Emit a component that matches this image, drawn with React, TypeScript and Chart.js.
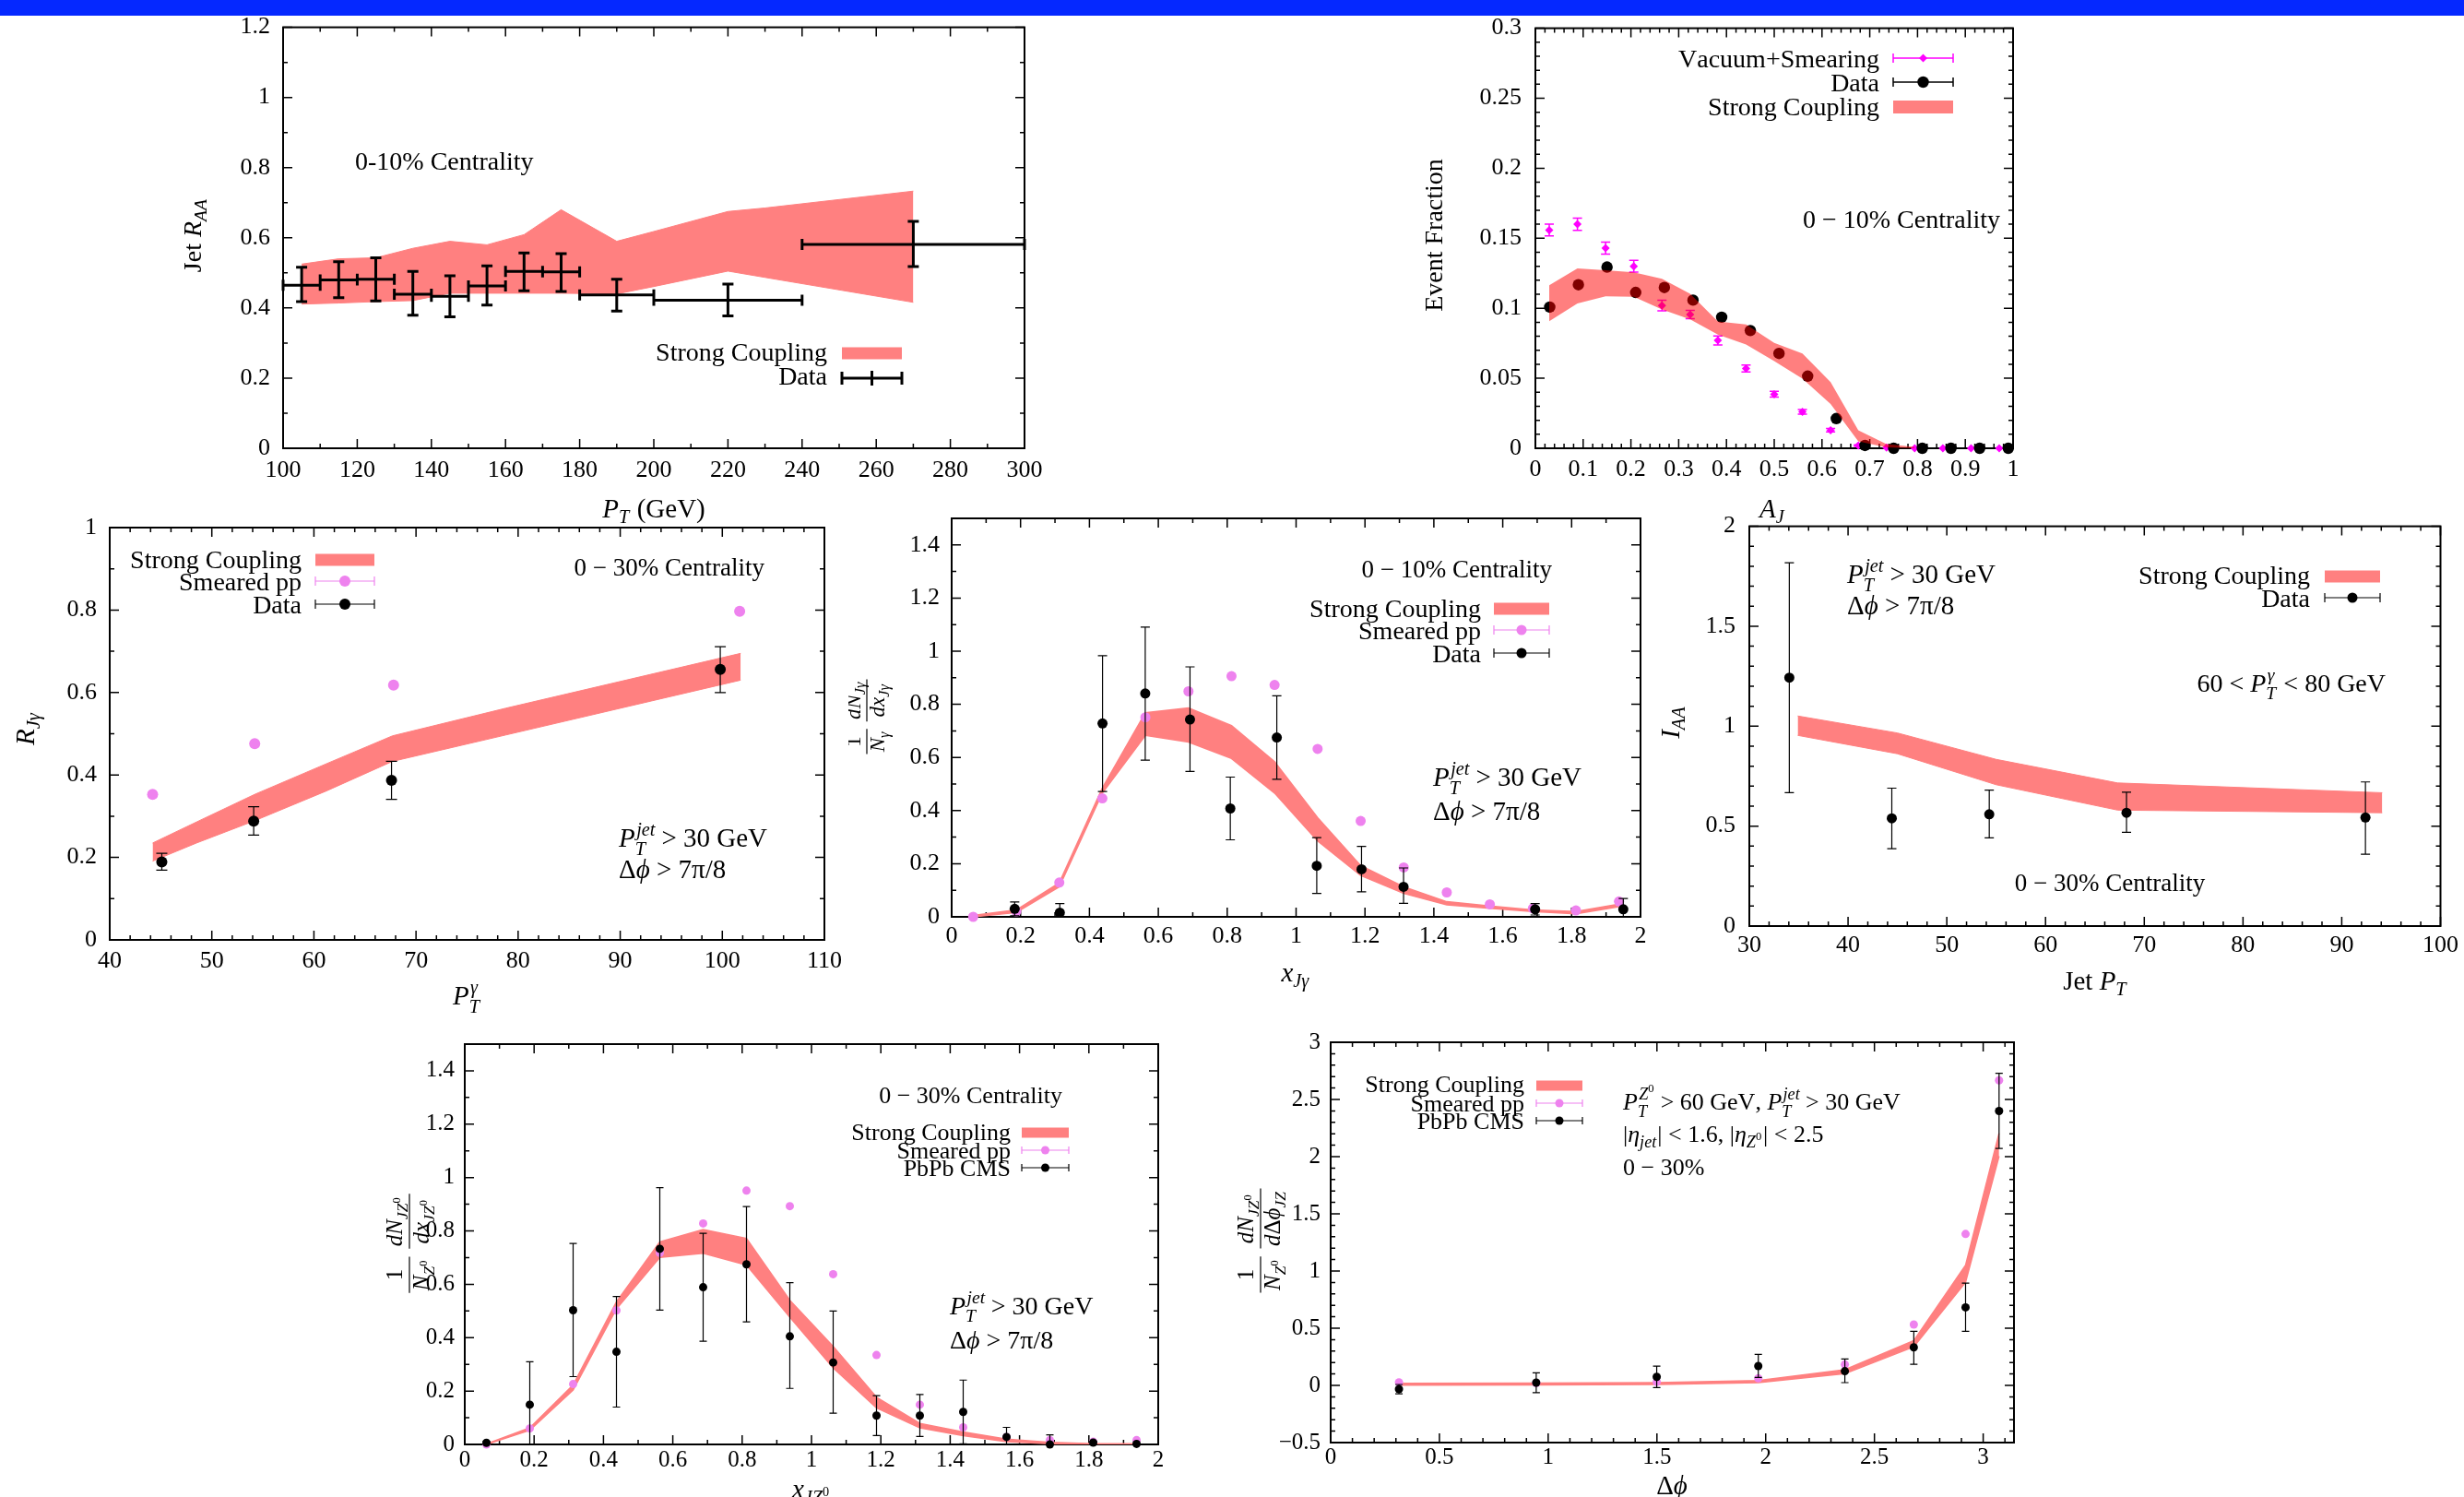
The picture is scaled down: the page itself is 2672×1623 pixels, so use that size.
import React, { useEffect, useRef } from 'react';
import { Chart, registerables } from 'chart.js';

Chart.register(...registerables);

const FONT = '"Liberation Serif", "DejaVu Serif", serif';
const BAND = '#ff8080';
const BAND_ALPHA = 'rgba(255,0,0,0.5)';
const VIOLET = '#ee82ee';
const MAGENTA = '#ff00ff';
const BLACK = '#000000';

// ---------------- Panel 1: Jet R_AA ----------------
const raaBandX = [105, 115, 125, 135, 145, 155, 165, 175, 190, 200, 220, 230, 270];
const raaBandHi = [0.525, 0.540, 0.543, 0.570, 0.590, 0.580, 0.609, 0.680, 0.590, 0.618, 0.675, 0.685, 0.733];
const raaBandLo = [0.411, 0.414, 0.418, 0.421, 0.442, 0.442, 0.442, 0.442, 0.440, 0.461, 0.505, 0.487, 0.416];
const raaX = [105, 115, 125, 135, 145, 155, 165, 175, 190, 220, 270];
const raaXLo = [100, 110, 120, 130, 140, 150, 160, 170, 180, 200, 240];
const raaXHi = [110, 120, 130, 140, 150, 160, 170, 180, 200, 240, 300];
const raaY = [0.465, 0.480, 0.482, 0.439, 0.433, 0.463, 0.504, 0.503, 0.437, 0.422, 0.581];
const raaYLo = [0.418, 0.429, 0.420, 0.379, 0.375, 0.408, 0.449, 0.447, 0.391, 0.377, 0.518];
const raaYHi = [0.516, 0.532, 0.543, 0.504, 0.492, 0.520, 0.557, 0.555, 0.482, 0.468, 0.647];

// ---------------- Panel 2: A_J ----------------
const ajVacX = [0.029, 0.088, 0.147, 0.206, 0.265, 0.324, 0.382, 0.441, 0.500, 0.559, 0.618, 0.676, 0.735, 0.794, 0.853, 0.912, 0.971];
const ajVacY = [0.1558, 0.1600, 0.1430, 0.1300, 0.1020, 0.0955, 0.0770, 0.0570, 0.0386, 0.0260, 0.0129, 0.0020, 0.0005, 0, 0, 0, 0];
const ajVacErr = [0.0042, 0.0043, 0.0043, 0.0042, 0.0038, 0.0030, 0.0032, 0.0025, 0.0021, 0.0017, 0.0012, 0.0005, 0, 0, 0, 0, 0];
const ajDataX = [0.03, 0.09, 0.15, 0.21, 0.27, 0.33, 0.39, 0.45, 0.51, 0.57, 0.63, 0.69, 0.75, 0.81, 0.87, 0.93, 0.99];
const ajDataY = [0.1008, 0.1168, 0.1294, 0.1113, 0.1148, 0.1058, 0.0936, 0.0841, 0.0677, 0.0515, 0.0212, 0.0020, 0, 0, 0, 0, 0];
const ajBandX = [0.029, 0.088, 0.147, 0.206, 0.265, 0.324, 0.382, 0.441, 0.500, 0.559, 0.618, 0.676, 0.735, 0.794];
const ajBandHi = [0.1165, 0.1284, 0.1272, 0.1256, 0.1210, 0.1103, 0.0905, 0.0884, 0.0753, 0.0677, 0.0472, 0.0129, 0.0030, 0.0010];
const ajBandLo = [0.0908, 0.1034, 0.1086, 0.1082, 0.0991, 0.0920, 0.0812, 0.0741, 0.0622, 0.0498, 0.0317, 0.0050, 0.0007, 0.0000];

// ---------------- Panel 3: R_Jgamma ----------------
const rjgBandX = [44.2, 48.5, 54.2, 61.2, 67.7, 78.8, 101.8];
const rjgBandHi = [0.235, 0.286, 0.353, 0.427, 0.495, 0.562, 0.695];
const rjgBandLo = [0.191, 0.235, 0.289, 0.361, 0.433, 0.497, 0.630];
const rjgPpX = [44.2, 54.2, 67.8, 101.7];
const rjgPpY = [0.353, 0.476, 0.618, 0.797];
const rjgDataX = [45.1, 54.1, 67.6, 99.8];
const rjgDataY = [0.189, 0.288, 0.387, 0.656];
const rjgDataLo = [0.169, 0.254, 0.341, 0.600];
const rjgDataHi = [0.210, 0.323, 0.433, 0.711];

// ---------------- Panel 4: x_Jgamma ----------------
const xjgX = [0.0625, 0.1875, 0.3125, 0.4375, 0.5625, 0.6875, 0.8125, 0.9375, 1.0625, 1.1875, 1.3125, 1.4375, 1.5625, 1.6875, 1.8125, 1.9375];
const xjgBandHi = [0.005, 0.026, 0.128, 0.485, 0.768, 0.786, 0.720, 0.584, 0.373, 0.193, 0.113, 0.057, 0.041, 0.026, 0.020, 0.048];
const xjgBandLo = [0.000, 0.016, 0.113, 0.466, 0.683, 0.658, 0.596, 0.466, 0.286, 0.156, 0.088, 0.045, 0.032, 0.020, 0.011, 0.038];
const xjgPpY = [0.000, 0.020, 0.129, 0.446, 0.751, 0.849, 0.906, 0.873, 0.632, 0.361, 0.186, 0.092, 0.047, 0.032, 0.024, 0.058];
const xjgDataX = [0.183, 0.314, 0.438, 0.562, 0.692, 0.809, 0.944, 1.060, 1.190, 1.312, 1.694, 1.950];
const xjgDataY = [0.030, 0.016, 0.728, 0.841, 0.743, 0.408, 0.675, 0.192, 0.179, 0.113, 0.0285, 0.0285];
const xjgDataLo = [0.004, 0.000, 0.472, 0.590, 0.547, 0.290, 0.518, 0.088, 0.094, 0.051, 0.007, 0.001];
const xjgDataHi = [0.056, 0.050, 0.983, 1.091, 0.941, 0.526, 0.832, 0.298, 0.265, 0.184, 0.050, 0.069];

// ---------------- Panel 5: I_AA ----------------
const iaaBandX = [34.9, 45.0, 55.0, 67.3, 94.1];
const iaaBandHi = [1.051, 0.966, 0.834, 0.716, 0.667];
const iaaBandLo = [0.954, 0.862, 0.707, 0.580, 0.567];
const iaaX = [34.05, 44.43, 54.3, 68.2, 92.4];
const iaaY = [1.243, 0.539, 0.559, 0.567, 0.543];
const iaaLo = [0.667, 0.387, 0.441, 0.469, 0.359];
const iaaHi = [1.818, 0.690, 0.680, 0.670, 0.721];

// ---------------- Panel 6: x_JZ0 ----------------
const xjzX = [0.0625, 0.1875, 0.3125, 0.4375, 0.5625, 0.6875, 0.8125, 0.9375, 1.0625, 1.1875, 1.3125, 1.4375, 1.5625, 1.6875, 1.8125, 1.9375];
const xjzBandHi = [0.002, 0.062, 0.223, 0.534, 0.759, 0.805, 0.772, 0.540, 0.367, 0.177, 0.079, 0.047, 0.020, 0.008, 0.003, 0.003];
const xjzBandLo = [0.000, 0.053, 0.204, 0.508, 0.701, 0.716, 0.672, 0.477, 0.287, 0.137, 0.062, 0.033, 0.010, 0.003, 0.001, 0.001];
const xjzPpY = [0.000, 0.060, 0.226, 0.502, 0.718, 0.828, 0.951, 0.893, 0.638, 0.335, 0.149, 0.064, 0.028, 0.016, 0.010, 0.016];
const xjzDataY = [0.006, 0.149, 0.503, 0.347, 0.733, 0.589, 0.675, 0.405, 0.307, 0.108, 0.108, 0.122, 0.028, 0.000, 0.007, 0.002];
const xjzDataLo = [0.000, 0.000, 0.254, 0.140, 0.503, 0.387, 0.459, 0.210, 0.117, 0.033, 0.030, 0.002, 0.000, 0.000, 0.000, 0.000];
const xjzDataHi = [0.012, 0.310, 0.753, 0.554, 0.962, 0.791, 0.891, 0.606, 0.500, 0.183, 0.187, 0.241, 0.064, 0.036, 0.012, 0.006];

// ---------------- Panel 7: delta phi ----------------
const dphiX = [0.314, 0.945, 1.499, 1.966, 2.364, 2.681, 2.919, 3.073];
const dphiBandHi = [0.019, 0.020, 0.025, 0.043, 0.137, 0.392, 1.050, 2.205];
const dphiBandLo = [0.003, 0.005, 0.008, 0.024, 0.102, 0.338, 0.902, 2.004];
const dphiPpY = [0.027, 0.020, 0.030, 0.062, 0.183, 0.532, 1.324, 2.667];
const dphiDataY = [-0.032, 0.024, 0.075, 0.169, 0.124, 0.333, 0.682, 2.399];
const dphiDataLo = [-0.073, -0.064, -0.019, 0.070, 0.024, 0.185, 0.473, 2.071];
const dphiDataHi = [0.008, 0.110, 0.169, 0.271, 0.231, 0.473, 0.894, 2.729];

// ---------------- rich text ----------------
type RNode = { c?: string; it?: boolean; sub?: RNode[]; sup?: RNode[] };
const isLetter = (c: string) => /[A-Za-z\u03b1-\u03c9\u03d5]/.test(c);

function parseRich(s: string): RNode[] {
  let i = 0;
  let math = false;
  function group(): RNode[] {
    const out: RNode[] = [];
    while (i < s.length) {
      const ch = s[i];
      if (ch === '}') { i++; return out; }
      if (ch === '$') { math = !math; i++; continue; }
      if (ch === '_' || ch === '^') {
        i++;
        let content: RNode[];
        if (s[i] === '{') { i++; content = group(); }
        else { const c = s[i++]; content = [{ c, it: math && isLetter(c) }]; }
        const last = out[out.length - 1];
        let node: RNode;
        if (last && (last.sub || last.sup) && !(ch === '_' ? last.sub : last.sup)) node = last;
        else { node = {}; out.push(node); }
        if (ch === '_') node.sub = content; else node.sup = content;
        continue;
      }
      out.push({ c: ch, it: math && isLetter(ch) });
      i++;
    }
    return out;
  }
  return group();
}

function richRun(ctx: CanvasRenderingContext2D, nodes: RNode[], x: number, y: number, size: number, draw: boolean): number {
  let w = 0;
  for (const n of nodes) {
    if (n.c !== undefined) {
      ctx.font = (n.it ? 'italic ' : '') + size + 'px ' + FONT;
      if (draw) ctx.fillText(n.c, x + w, y);
      w += ctx.measureText(n.c).width;
    } else {
      const ss = Math.max(size * 0.7, 9);
      const both = !!(n.sub && n.sup);
      let a = 0, b = 0;
      if (n.sub) a = richRun(ctx, n.sub, x + w, y + size * (both ? 0.3 : 0.22), ss, draw);
      if (n.sup) b = richRun(ctx, n.sup, x + w + (both ? size * 0.05 : 0), y - size * 0.42, ss, draw);
      w += Math.max(a, b) + size * 0.04;
    }
  }
  return w;
}

function drawText(ctx: CanvasRenderingContext2D, s: string, x: number, y: number, size: number, align: string, rot?: boolean) {
  const nodes = parseRich(s);
  ctx.textBaseline = 'alphabetic';
  ctx.textAlign = 'left';
  const w = richRun(ctx, nodes, 0, 0, size, false);
  if (rot) {
    ctx.save();
    ctx.translate(x, y);
    ctx.rotate(-Math.PI / 2);
    richRun(ctx, nodes, -w / 2, size * 0.34, size, true);
    ctx.restore();
    return;
  }
  const sx = align === 'left' ? x : align === 'right' ? x - w : x - w / 2;
  richRun(ctx, nodes, sx, y + size * 0.34, size, true);
}

function drawFracLabel(ctx: CanvasRenderingContext2D, parts: string[][], x: number, y: number, fs: number) {
  ctx.textBaseline = 'alphabetic';
  ctx.textAlign = 'left';
  const info = parts.map(([n, d]) => {
    const nn = parseRich(n), dd = parseRich(d);
    const wn = richRun(ctx, nn, 0, 0, fs, false), wd = richRun(ctx, dd, 0, 0, fs, false);
    return { nn, dd, wn, wd, w: Math.max(wn, wd) + fs * 0.2 };
  });
  const gap = fs * 0.35;
  const total = info.reduce((s, it) => s + it.w, 0) + gap * (info.length - 1);
  ctx.save();
  ctx.translate(x, y);
  ctx.rotate(-Math.PI / 2);
  ctx.strokeStyle = '#000';
  ctx.lineWidth = 1.2;
  let sx = -total / 2;
  for (const it of info) {
    ctx.beginPath();
    ctx.moveTo(sx, 0);
    ctx.lineTo(sx + it.w, 0);
    ctx.stroke();
    richRun(ctx, it.nn, sx + (it.w - it.wn) / 2, -0.32 * fs, fs, true);
    richRun(ctx, it.dd, sx + (it.w - it.wd) / 2, 0.84 * fs, fs, true);
    sx += it.w + gap;
  }
  ctx.restore();
}

function drawMarker(ctx: CanvasRenderingContext2D, x: number, y: number, r: number, style: string, color: string) {
  ctx.fillStyle = color;
  ctx.beginPath();
  if (style === 'rectRot') {
    ctx.moveTo(x, y - r); ctx.lineTo(x + r, y); ctx.lineTo(x, y + r); ctx.lineTo(x - r, y); ctx.closePath();
  } else {
    ctx.arc(x, y, r, 0, Math.PI * 2);
  }
  ctx.fill();
}

// ---------------- dataset helpers ----------------
const pts = (xs: number[], ys: number[]) => xs.map((x, i) => ({ x, y: ys[i] }));

function bandSets(xs: number[], hi: number[], lo: number[], color: string, bw: number) {
  return [
    { data: pts(xs, hi), borderColor: color, backgroundColor: color, borderWidth: bw, pointRadius: 0, fill: '+1', tension: 0 },
    { data: pts(xs, lo), borderColor: color, backgroundColor: color, borderWidth: bw, pointRadius: 0, fill: false, tension: 0 },
  ];
}

function scatterSet(xs: number[], ys: number[], color: string, r: number, style: string, eb?: any) {
  return {
    data: pts(xs, ys), showLine: false, borderColor: color, backgroundColor: color,
    pointBackgroundColor: color, pointBorderColor: color, pointBorderWidth: 0,
    pointRadius: r, pointStyle: style, clip: false, eb,
  };
}

const PHI = '\u03d5';

// ---------------- panels ----------------
const P1 = {
  box: [150, 0, 1030, 580], area: [307, 21, 1111, 486],
  x: { min: 100, max: 300, step: 20, minor: 10 },
  y: { min: 0, max: 1.2, step: 0.2, minor: 0.1 },
  tick: 26, xPad: 9, yPad: 14,
  datasets: [
    scatterSet(raaX, raaY, BLACK, 0, 'circle', { lo: raaYLo, hi: raaYHi, xlo: raaXLo, xhi: raaXHi, color: BLACK, width: 3, cap: 6 }),
    ...bandSets(raaBandX, raaBandHi, raaBandLo, BAND, 1),
  ],
  texts: [
    { s: '0-10% Centrality', x: 385, y: 174, size: 28, align: 'left' },
    { s: 'Jet $R_{AA}$', x: 208, y: 255, size: 28, rot: true },
    { s: '$P_T$ (GeV)', x: 709, y: 551, size: 29, align: 'center' },
  ],
  legend: {
    right: 897, sL: 913, sR: 978, size: 28, items: [
      { label: 'Strong Coupling', y: 381, sy: 383, kind: 'band', color: BAND, h: 13 },
      { label: 'Data', y: 407, sy: 410, kind: 'cross', color: BLACK, lw: 3, cap: 7 },
    ],
  },
};

const P2 = {
  box: [1500, 0, 740, 580], area: [1665, 21, 2183, 486],
  x: { min: 0, max: 1, step: 0.1, minor: 0.02 },
  y: { min: 0, max: 0.3, step: 0.05, minor: 0.01 },
  tick: 26, xPad: 8, yPad: 15,
  datasets: [
    ...bandSets(ajBandX, ajBandHi, ajBandLo, BAND_ALPHA, 0),
    scatterSet(ajDataX, ajDataY, BLACK, 6.2, 'circle'),
    scatterSet(ajVacX, ajVacY, MAGENTA, 4.5, 'rectRot', {
      lo: ajVacY.map((v, i) => v - ajVacErr[i]), hi: ajVacY.map((v, i) => v + ajVacErr[i]),
      color: MAGENTA, width: 1.5, cap: 5,
    }),
  ],
  texts: [
    { s: '0 \u2212 10% Centrality', x: 2169, y: 237, size: 28, align: 'right' },
    { s: 'Event Fraction', x: 1554, y: 255, size: 28, rot: true },
    { s: '$A_J$', x: 1922, y: 551, size: 29, align: 'center' },
  ],
  legend: {
    right: 2038, sL: 2053, sR: 2118, size: 28, items: [
      { label: 'Vacuum+Smearing', y: 63, kind: 'pt', color: MAGENTA, style: 'rectRot', r: 4.5, lw: 1.5, cap: 5 },
      { label: 'Data', y: 89, kind: 'pt', color: BLACK, style: 'circle', r: 6.2, lw: 1.5, cap: 5 },
      { label: 'Strong Coupling', y: 115, sy: 116, kind: 'band', color: BAND, h: 14 },
    ],
  },
};

const P3 = {
  box: [0, 540, 960, 560], area: [119, 572, 894, 1019],
  x: { min: 40, max: 110, step: 10, minor: 2 },
  y: { min: 0, max: 1, step: 0.2, minor: 0.1 },
  tick: 26, xPad: 8, yPad: 14,
  datasets: [
    scatterSet(rjgDataX, rjgDataY, BLACK, 6, 'circle', { lo: rjgDataLo, hi: rjgDataHi, color: BLACK, width: 1.2, cap: 6 }),
    scatterSet(rjgPpX, rjgPpY, VIOLET, 6, 'circle'),
    ...bandSets(rjgBandX, rjgBandHi, rjgBandLo, BAND, 1),
  ],
  texts: [
    { s: '0 \u2212 30% Centrality', x: 829, y: 615, size: 27, align: 'right' },
    { s: '$P_T^{jet}$ > 30 GeV', x: 671, y: 908, size: 29, align: 'left' },
    { s: '\u0394$' + PHI + '$ > 7\u03c0/8', x: 671, y: 942, size: 29, align: 'left' },
    { s: '$R_{J\u03b3}$', x: 27, y: 790, size: 29, rot: true },
    { s: '$P_T^\u03b3$', x: 506, y: 1079, size: 29, align: 'center' },
  ],
  legend: {
    right: 327, sL: 342, sR: 406, size: 28, items: [
      { label: 'Strong Coupling', y: 606, sy: 607, kind: 'band', color: BAND, h: 13 },
      { label: 'Smeared pp', y: 630, kind: 'pt', color: VIOLET, style: 'circle', r: 6, lw: 1.2, cap: 5 },
      { label: 'Data', y: 655, kind: 'pt', color: BLACK, style: 'circle', r: 6, lw: 1.2, cap: 5 },
    ],
  },
};

const P4 = {
  box: [920, 530, 920, 550], area: [1032, 562, 1779, 994],
  x: { min: 0, max: 2, step: 0.2, minor: 0.1 },
  y: { min: 0, max: 1.5, step: 0.2, minor: 0.1 },
  tick: 26, xPad: 6, yPad: 13,
  datasets: [
    scatterSet(xjgDataX, xjgDataY, BLACK, 5.5, 'circle', { lo: xjgDataLo, hi: xjgDataHi, color: BLACK, width: 1.2, cap: 5 }),
    scatterSet(xjgX, xjgPpY, VIOLET, 5.5, 'circle'),
    ...bandSets(xjgX, xjgBandHi, xjgBandLo, BAND, 1.5),
  ],
  texts: [
    { s: '0 \u2212 10% Centrality', x: 1683, y: 617, size: 27, align: 'right' },
    { s: '$P_T^{jet}$ > 30 GeV', x: 1554, y: 842, size: 29, align: 'left' },
    { s: '\u0394$' + PHI + '$ > 7\u03c0/8', x: 1554, y: 879, size: 29, align: 'left' },
    { frac: [['1', '$N_\u03b3$'], ['$dN_{J\u03b3}$', '$dx_{J\u03b3}$']], x: 940, y: 777, size: 23 },
    { s: '$x_{J\u03b3}$', x: 1405, y: 1054, size: 29, align: 'center' },
  ],
  legend: {
    right: 1606, sL: 1620, sR: 1680, size: 28, items: [
      { label: 'Strong Coupling', y: 659, sy: 660, kind: 'band', color: BAND, h: 13 },
      { label: 'Smeared pp', y: 683, kind: 'pt', color: VIOLET, style: 'circle', r: 5.5, lw: 1.2, cap: 5 },
      { label: 'Data', y: 708, kind: 'pt', color: BLACK, style: 'circle', r: 5.5, lw: 1.2, cap: 5 },
    ],
  },
};

const P5 = {
  box: [1790, 540, 882, 560], area: [1897, 568, 2647, 1004],
  x: { min: 30, max: 100, step: 10, minor: 2 },
  y: { min: 0, max: 2, step: 0.5, minor: 0.1 },
  tick: 26, xPad: 6, yPad: 15,
  datasets: [
    scatterSet(iaaX, iaaY, BLACK, 5.5, 'circle', { lo: iaaLo, hi: iaaHi, color: BLACK, width: 1.2, cap: 5 }),
    ...bandSets(iaaBandX, iaaBandHi, iaaBandLo, BAND, 1),
  ],
  texts: [
    { s: '$P_T^{jet}$ > 30 GeV', x: 2003, y: 622, size: 29, align: 'left' },
    { s: '\u0394$' + PHI + '$ > 7\u03c0/8', x: 2003, y: 656, size: 29, align: 'left' },
    { s: '60 < $P_T^\u03b3$ < 80 GeV', x: 2587, y: 740, size: 28, align: 'right' },
    { s: '0 \u2212 30% Centrality', x: 2288, y: 957, size: 27, align: 'center' },
    { s: '$I_{AA}$', x: 1811, y: 783, size: 29, rot: true },
    { s: 'Jet $P_T$', x: 2272, y: 1063, size: 29, align: 'center' },
  ],
  legend: {
    right: 2505, sL: 2521, sR: 2581, size: 28, items: [
      { label: 'Strong Coupling', y: 623, sy: 625, kind: 'band', color: BAND, h: 13 },
      { label: 'Data', y: 648, kind: 'pt', color: BLACK, style: 'circle', r: 5.5, lw: 1.2, cap: 5 },
    ],
  },
};

const P6 = {
  box: [400, 1100, 920, 523], area: [504, 1132, 1256, 1566],
  x: { min: 0, max: 2, step: 0.2, minor: 0.1 },
  y: { min: 0, max: 1.5, step: 0.2, minor: 0.1 },
  tick: 25, xPad: 2, yPad: 11,
  datasets: [
    scatterSet(xjzX, xjzDataY, BLACK, 4.5, 'circle', { lo: xjzDataLo, hi: xjzDataHi, color: BLACK, width: 1.2, cap: 4 }),
    scatterSet(xjzX, xjzPpY, VIOLET, 4.5, 'circle'),
    ...bandSets(xjzX, xjzBandHi, xjzBandLo, BAND, 1.5),
  ],
  texts: [
    { s: '0 \u2212 30% Centrality', x: 1152, y: 1187, size: 26, align: 'right' },
    { s: '$P_T^{jet}$ > 30 GeV', x: 1030, y: 1415, size: 28, align: 'left' },
    { s: '\u0394$' + PHI + '$ > 7\u03c0/8', x: 1030, y: 1452, size: 28, align: 'left' },
    { frac: [['1', '$N_{Z^0}$'], ['$dN_{JZ^0}$', '$dx_{JZ^0}$']], x: 444, y: 1348, size: 25 },
    { s: '$x_{JZ^0}$', x: 880, y: 1614, size: 29, align: 'center' },
  ],
  legend: {
    right: 1096, sL: 1108, sR: 1159, size: 26, items: [
      { label: 'Strong Coupling', y: 1227, sy: 1228, kind: 'band', color: BAND, h: 11 },
      { label: 'Smeared pp', y: 1247, kind: 'pt', color: VIOLET, style: 'circle', r: 4.5, lw: 1.2, cap: 4 },
      { label: 'PbPb CMS', y: 1266, kind: 'pt', color: BLACK, style: 'circle', r: 4.5, lw: 1.2, cap: 4 },
    ],
  },
};

const P7 = {
  box: [1300, 1100, 960, 523], area: [1443, 1130, 2184, 1564],
  x: { min: 0, max: Math.PI, step: 0.5, minor: 0.1 },
  y: { min: -0.5, max: 3, step: 0.5, minor: 0.1 },
  tick: 25, xPad: 1, yPad: 11,
  datasets: [
    scatterSet(dphiX, dphiDataY, BLACK, 4.5, 'circle', { lo: dphiDataLo, hi: dphiDataHi, color: BLACK, width: 1.2, cap: 4 }),
    scatterSet(dphiX, dphiPpY, VIOLET, 4.5, 'circle'),
    ...bandSets(dphiX, dphiBandHi, dphiBandLo, BAND, 1.5),
  ],
  texts: [
    { s: '$P_T^{Z^0}$ > 60 GeV, $P_T^{jet}$ > 30 GeV', x: 1760, y: 1194, size: 26, align: 'left' },
    { s: '|$\u03b7_{jet}$| < 1.6, |$\u03b7_{Z^0}$| < 2.5', x: 1760, y: 1229, size: 26, align: 'left' },
    { s: '0 \u2212 30%', x: 1760, y: 1265, size: 26, align: 'left' },
    { frac: [['1', '$N_{Z^0}$'], ['$dN_{JZ^0}$', '$d$\u0394$' + PHI + '_{JZ}$']], x: 1367, y: 1345, size: 25 },
    { s: '\u0394$' + PHI + '$', x: 1813, y: 1610, size: 29, align: 'center' },
  ],
  legend: {
    right: 1653, sL: 1666, sR: 1716, size: 26, items: [
      { label: 'Strong Coupling', y: 1175, sy: 1177, kind: 'band', color: BAND, h: 11 },
      { label: 'Smeared pp', y: 1196, kind: 'pt', color: VIOLET, style: 'circle', r: 4.5, lw: 1.2, cap: 4 },
      { label: 'PbPb CMS', y: 1215, kind: 'pt', color: BLACK, style: 'circle', r: 4.5, lw: 1.2, cap: 4 },
    ],
  },
};

const PANELS: any[] = [P1, P2, P3, P4, P5, P6, P7];

// ---------------- plugins ----------------
const errPlugin = {
  id: 'errbars',
  beforeDatasetDraw(chart: any, args: any) {
    const ds: any = chart.data.datasets[args.index];
    const e = ds.eb;
    if (!e) return;
    const ctx = chart.ctx;
    const xs = chart.scales.x, ys = chart.scales.y;
    ctx.save();
    ctx.strokeStyle = e.color;
    ctx.lineWidth = e.width;
    ctx.beginPath();
    ds.data.forEach((p: any, i: number) => {
      const px = xs.getPixelForValue(p.x), py = ys.getPixelForValue(p.y);
      if (e.lo) {
        const y1 = ys.getPixelForValue(e.lo[i]), y2 = ys.getPixelForValue(e.hi[i]);
        if (Math.abs(y1 - y2) > 0.5) {
          ctx.moveTo(px, y1); ctx.lineTo(px, y2);
          ctx.moveTo(px - e.cap, y1); ctx.lineTo(px + e.cap, y1);
          ctx.moveTo(px - e.cap, y2); ctx.lineTo(px + e.cap, y2);
        }
      }
      if (e.xlo) {
        const x1 = xs.getPixelForValue(e.xlo[i]), x2 = xs.getPixelForValue(e.xhi[i]);
        ctx.moveTo(x1, py); ctx.lineTo(x2, py);
        ctx.moveTo(x1, py - e.cap); ctx.lineTo(x1, py + e.cap);
        ctx.moveTo(x2, py - e.cap); ctx.lineTo(x2, py + e.cap);
      }
    });
    ctx.stroke();
    ctx.restore();
  },
};

function drawFrame(chart: any, p: any) {
  const ctx = chart.ctx;
  const a = chart.chartArea;
  const xs = chart.scales.x, ys = chart.scales.y;
  ctx.save();
  ctx.strokeStyle = '#000';
  ctx.lineWidth = 1.5;
  ctx.beginPath();
  const ticks = (cfg: any, horiz: boolean) => {
    const n = Math.floor((cfg.max - cfg.min) / cfg.minor + 1e-6);
    for (let k = 0; k <= n; k++) {
      const v = cfg.min + k * cfg.minor;
      const r = v / cfg.step;
      const len = Math.abs(r - Math.round(r)) < 1e-6 ? 10 : 5;
      if (horiz) {
        const px = xs.getPixelForValue(v);
        ctx.moveTo(px, a.bottom); ctx.lineTo(px, a.bottom - len);
        ctx.moveTo(px, a.top); ctx.lineTo(px, a.top + len);
      } else {
        const py = ys.getPixelForValue(v);
        ctx.moveTo(a.left, py); ctx.lineTo(a.left + len, py);
        ctx.moveTo(a.right, py); ctx.lineTo(a.right - len, py);
      }
    }
  };
  ticks(p.x, true);
  ticks(p.y, false);
  ctx.stroke();
  ctx.lineWidth = 2;
  ctx.strokeRect(a.left, a.top, a.right - a.left, a.bottom - a.top);
  ctx.restore();
}

function drawLegend(ctx: CanvasRenderingContext2D, lg: any, ox: number, oy: number) {
  for (const it of lg.items) {
    ctx.fillStyle = '#000';
    drawText(ctx, it.label, lg.right - ox, it.y - oy, lg.size, 'right');
    const L = lg.sL - ox, R = lg.sR - ox, Y = (it.sy ?? it.y) - oy;
    if (it.kind === 'band') {
      ctx.fillStyle = it.color;
      ctx.fillRect(L, Y - it.h / 2, R - L, it.h);
      continue;
    }
    ctx.strokeStyle = it.color;
    ctx.lineWidth = it.lw;
    ctx.beginPath();
    ctx.moveTo(L, Y); ctx.lineTo(R, Y);
    ctx.moveTo(L, Y - it.cap); ctx.lineTo(L, Y + it.cap);
    ctx.moveTo(R, Y - it.cap); ctx.lineTo(R, Y + it.cap);
    if (it.kind === 'cross') {
      const C = (L + R) / 2;
      ctx.moveTo(C, Y - it.cap - 1); ctx.lineTo(C, Y + it.cap + 1);
    }
    ctx.stroke();
    if (it.kind === 'pt') drawMarker(ctx, (L + R) / 2, Y, it.r, it.style, it.color);
  }
}

function panelPlugin(p: any) {
  return {
    id: 'panelDeco',
    beforeDatasetsDraw(chart: any) {
      drawFrame(chart, p);
    },
    afterDatasetsDraw(chart: any) {
      const ctx = chart.ctx;
      const ox = p.box[0], oy = p.box[1];
      ctx.save();
      for (const t of p.texts) {
        ctx.fillStyle = '#000';
        if (t.frac) drawFracLabel(ctx, t.frac, t.x - ox, t.y - oy, t.size);
        else drawText(ctx, t.s, t.x - ox, t.y - oy, t.size, t.align || 'center', t.rot);
      }
      drawLegend(ctx, p.legend, ox, oy);
      ctx.restore();
    },
  };
}

const fmt = (v: any) => {
  const n = Math.round(Number(v) * 1e6) / 1e6;
  const s = String(Math.abs(n));
  return n < 0 ? '\u2212' + s : s;
};

function makeChart(canvas: HTMLCanvasElement, p: any) {
  const [bx, by, bw, bh] = p.box;
  const [l, t, r, b] = p.area;
  const tickFont = { family: FONT, size: p.tick };
  return new Chart(canvas, {
    type: 'line',
    data: { datasets: p.datasets },
    options: {
      animation: false,
      responsive: false,
      maintainAspectRatio: false,
      devicePixelRatio: 1,
      events: [],
      layout: { padding: { left: 0, top: t - by, right: bx + bw - r, bottom: 0 } },
      plugins: { legend: { display: false }, tooltip: { enabled: false }, title: { display: false } },
      scales: {
        x: {
          type: 'linear', position: 'bottom', min: p.x.min, max: p.x.max,
          afterFit: (s: any) => { s.height = by + bh - b; },
          ticks: { stepSize: p.x.step, callback: fmt, font: tickFont, color: '#000', padding: p.xPad, maxRotation: 0, autoSkip: false, includeBounds: false },
          grid: { display: false, drawTicks: false },
          border: { display: false },
        },
        y: {
          type: 'linear', position: 'left', min: p.y.min, max: p.y.max,
          afterFit: (s: any) => { s.width = l - bx; },
          ticks: { stepSize: p.y.step, callback: fmt, font: tickFont, color: '#000', padding: p.yPad, autoSkip: false, includeBounds: false },
          grid: { display: false, drawTicks: false },
          border: { display: false },
        },
      },
    } as any,
    plugins: [errPlugin, panelPlugin(p)],
  });
}

function Panel({ cfg }: { cfg: any }) {
  const ref = useRef<HTMLCanvasElement>(null);
  useEffect(() => {
    const c = makeChart(ref.current as HTMLCanvasElement, cfg);
    return () => c.destroy();
  }, [cfg]);
  const [x, y, w, h] = cfg.box;
  return (
    <canvas
      ref={ref}
      width={w}
      height={h}
      style={{ position: 'absolute', left: x, top: y, width: w, height: h }}
    />
  );
}

export default function App() {
  return (
    <div style={{ position: 'fixed', left: 0, top: 0, width: 2672, height: 1623, background: '#ffffff', overflow: 'hidden' }}>
      {PANELS.map((p, i) => (
        <Panel key={i} cfg={p} />
      ))}
      <div style={{ position: 'absolute', left: 0, top: 0, width: 2672, height: 17, background: '#0528ff', zIndex: 10 }} />
    </div>
  );
}
